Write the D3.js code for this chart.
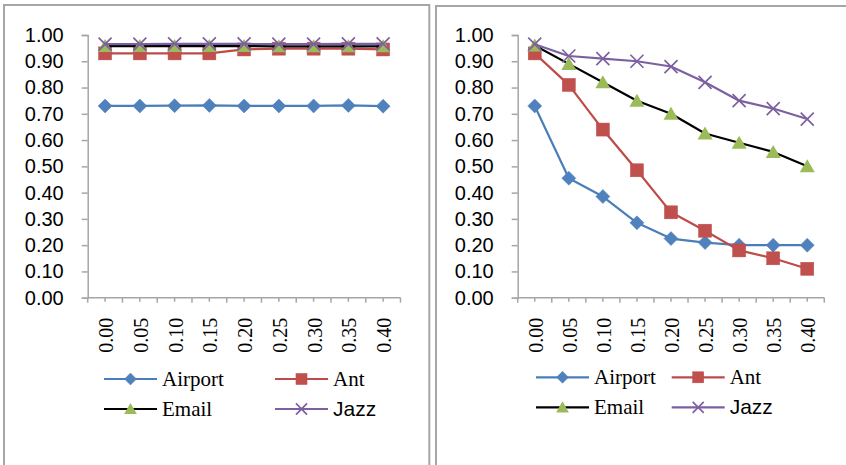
<!DOCTYPE html>
<html>
<head>
<meta charset="utf-8">
<script src="https://cdn.jsdelivr.net/npm/d3@7"></script>
<style>
  html, body { margin: 0; padding: 0; background: #fff; }
  svg { display: block; }
</style>
</head>
<body>
<svg id="chart" width="846" height="465"></svg>
<script>
// Noise levels on the x axis
const categories = ["0.00", "0.05", "0.10", "0.15", "0.20", "0.25", "0.30", "0.35", "0.40"];
const yTicks = [0, 0.1, 0.2, 0.3, 0.4, 0.5, 0.6, 0.7, 0.8, 0.9, 1.0];
const seriesNames = ["Airport", "Ant", "Email", "Jazz"];

// Left panel
const leftAirport = [0.730, 0.730, 0.731, 0.732, 0.730, 0.730, 0.730, 0.732, 0.729];
const leftAnt     = [0.930, 0.930, 0.930, 0.930, 0.945, 0.948, 0.948, 0.948, 0.945];
const leftEmail   = [0.958, 0.958, 0.958, 0.958, 0.958, 0.957, 0.957, 0.957, 0.957];
const leftJazz    = [0.965, 0.965, 0.966, 0.966, 0.966, 0.965, 0.965, 0.966, 0.966];

// Right panel
const rightAirport = [0.730, 0.455, 0.385, 0.285, 0.225, 0.210, 0.200, 0.200, 0.200];
const rightAnt     = [0.930, 0.810, 0.640, 0.485, 0.325, 0.255, 0.180, 0.150, 0.110];
const rightEmail   = [0.960, 0.890, 0.820, 0.750, 0.700, 0.625, 0.590, 0.555, 0.500];
const rightJazz    = [0.965, 0.920, 0.910, 0.900, 0.880, 0.820, 0.750, 0.720, 0.680];

const styles = {
  Airport: { line: "#4A7EBB", fill: "#4F81BD", marker: "diamond", font: "'Liberation Serif', 'Times New Roman', serif" },
  Ant:     { line: "#BE4B48", fill: "#C0504D", marker: "square",  font: "'Liberation Serif', 'Times New Roman', serif" },
  Email:   { line: "#000000", fill: "#9BBB59", marker: "triangle", font: "'Liberation Serif', 'Times New Roman', serif" },
  Jazz:    { line: "#7D60A0", fill: "#7D60A0", marker: "cross",   font: "'Liberation Sans', Arial, sans-serif" }
};

const svg = d3.select("#chart");
const sans = "'Liberation Sans', Arial, sans-serif";
const serif = "'Liberation Serif', 'Times New Roman', serif";
const axisColor = "#A6A6A6";

function drawMarker(g, type, x, y, st, s) {
  s = s || 1;
  if (type === "diamond") {
    const r = 7 * s;
    g.append("path")
      .attr("d", `M${x},${y - r}L${x + r},${y}L${x},${y + r}L${x - r},${y}Z`)
      .attr("fill", st.fill).attr("stroke", st.fill).attr("stroke-width", 0.5);
  } else if (type === "square") {
    const h = 6.5 * s;
    g.append("rect").attr("x", x - h).attr("y", y - h).attr("width", 2 * h).attr("height", 2 * h)
      .attr("fill", st.fill).attr("stroke", st.line).attr("stroke-width", 0.5);
  } else if (type === "triangle") {
    g.append("path")
      .attr("d", `M${x},${y - 7 * s}L${x + 7.5 * s},${y + 6 * s}L${x - 7.5 * s},${y + 6 * s}Z`)
      .attr("fill", st.fill);
  } else if (type === "cross") {
    const h = 6.5 * s;
    g.append("path")
      .attr("d", `M${x - h},${y - h}L${x + h},${y + h}M${x + h},${y - h}L${x - h},${y + h}`)
      .attr("stroke", st.fill).attr("stroke-width", 1.7).attr("fill", "none");
  }
}

function drawPanel(cfg) {
  const g = svg.append("g");

  // panel frame
  g.append("rect")
    .attr("x", cfg.frame[0]).attr("y", cfg.frame[1])
    .attr("width", cfg.frame[2]).attr("height", cfg.frame[3])
    .attr("fill", "none").attr("stroke", axisColor).attr("stroke-width", 2);

  const x = d3.scalePoint().domain(categories).range([cfg.x0, cfg.x1]).padding(0.5);
  const band = (cfg.x1 - cfg.x0) / categories.length;
  const y = d3.scaleLinear().domain([0, 1]).range([cfg.yBottom, cfg.yTop]);

  // y axis
  const yAxis = d3.axisLeft(y).tickValues(yTicks).tickFormat(d3.format(".2f")).tickSize(6).tickPadding(18);
  const ya = g.append("g").attr("transform", `translate(${cfg.x0},0)`).call(yAxis);
  ya.select(".domain").attr("stroke", axisColor).attr("stroke-width", 1.5);
  ya.selectAll(".tick line").attr("stroke", axisColor).attr("stroke-width", 1.5);
  ya.selectAll(".tick text").attr("font-family", sans).attr("font-size", 20).attr("fill", "#000");

  // x axis line with ticks at boundaries and category centres
  const xa = g.append("g");
  xa.append("line").attr("x1", cfg.x0).attr("x2", cfg.x1)
    .attr("y1", cfg.yBottom).attr("y2", cfg.yBottom)
    .attr("stroke", axisColor).attr("stroke-width", 1.5);
  for (let i = 0; i <= categories.length; i++) {
    const tx = cfg.x0 + i * band;
    xa.append("line").attr("x1", tx).attr("x2", tx)
      .attr("y1", cfg.yBottom).attr("y2", cfg.yBottom + 5)
      .attr("stroke", axisColor).attr("stroke-width", 1.5);
  }
  categories.forEach(c => {
    xa.append("line").attr("x1", x(c)).attr("x2", x(c))
      .attr("y1", cfg.yBottom).attr("y2", cfg.yBottom + 4)
      .attr("stroke", axisColor).attr("stroke-width", 1.5);
    xa.append("text")
      .attr("transform", `translate(${x(c) + 1},${cfg.yBottom + 20}) rotate(-90)`)
      .attr("text-anchor", "end").attr("dominant-baseline", "central")
      .attr("font-family", serif).attr("font-size", 20).attr("fill", "#000")
      .text(c);
  });

  // series
  const line = d3.line().x((d, i) => x(categories[i])).y(d => y(d));
  seriesNames.forEach((name, si) => {
    const st = styles[name];
    const vals = cfg.data[si];
    const sg = g.append("g");
    sg.append("path").attr("d", line(vals)).attr("fill", "none")
      .attr("stroke", st.line).attr("stroke-width", 2.2).attr("stroke-linejoin", "round");
    vals.forEach((v, i) => drawMarker(sg, st.marker, x(categories[i]), y(v), st, 1));
  });

  // legend
  const lg = g.append("g");
  seriesNames.forEach((name, si) => {
    const st = styles[name];
    const col = si % 2, row = Math.floor(si / 2);
    const lx = cfg.legendX[col], ly = cfg.legendY[row];
    lg.append("line").attr("x1", lx).attr("x2", lx + 53).attr("y1", ly).attr("y2", ly)
      .attr("stroke", st.line).attr("stroke-width", 2.2);
    drawMarker(lg, st.marker, lx + 26.5, ly, st, 0.85);
    lg.append("text").attr("x", lx + 58).attr("y", ly + 7)
      .attr("font-family", st.font).attr("font-size", 21).attr("fill", "#000")
      .text(name);
  });
}

drawPanel({
  frame: [4, 5, 425.3, 480],
  x0: 87.7, x1: 400.5, yTop: 35, yBottom: 297.7,
  data: [leftAirport, leftAnt, leftEmail, leftJazz],
  legendX: [104, 275], legendY: [379, 409]
});

drawPanel({
  frame: [436, 6, 430, 480],
  x0: 517.7, x1: 824.3, yTop: 35, yBottom: 297.7,
  data: [rightAirport, rightAnt, rightEmail, rightJazz],
  legendX: [536, 671.7], legendY: [377.3, 407.3]
});
</script>
</body>
</html>
